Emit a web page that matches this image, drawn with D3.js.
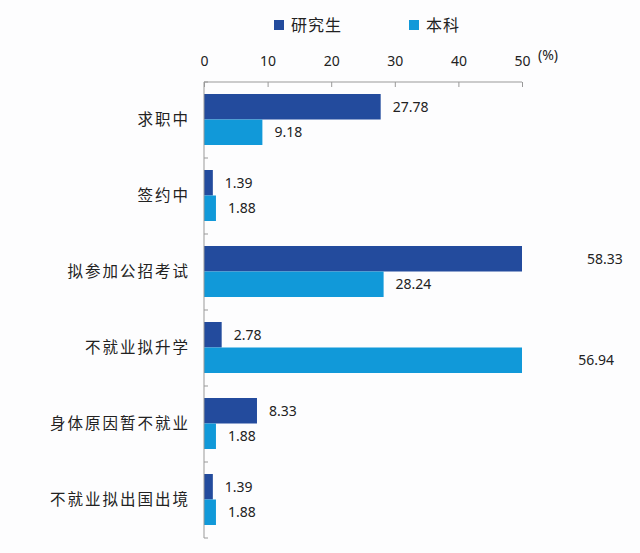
<!DOCTYPE html>
<html>
<head>
<meta charset="utf-8">
<script src="https://cdn.jsdelivr.net/npm/d3@7"></script>
<style>
body{margin:0;background:#fdfdfe;}
text{font-family:"Noto Sans","Noto Sans CJK SC",sans-serif;fill:#222;}
</style>
</head>
<body>
<div id="chart"></div>
<script>
var categories = ["求职中","签约中","拟参加公招考试","不就业拟升学","身体原因暂不就业","不就业拟出国出境"];
var seriesNames = ["研究生","本科"];
var graduate = [27.78, 1.39, 58.33, 2.78, 8.33, 1.39];
var undergrad = [9.18, 1.88, 28.24, 56.94, 1.88, 1.88];
var tickValues = [0,10,20,30,40,50];
var colors = ["#234b9d","#1199d9"];

var w = 640, h = 553;
var plotLeft = 204, plotRight = 522, plotTop = 82, plotBottom = 538;

var svg = d3.select("#chart").append("svg")
	.attr("width", w)
	.attr("height", h);

var x = d3.scaleLinear().domain([0,50]).range([plotLeft,plotRight]);
var y = d3.scaleBand().domain(categories).range([plotTop,plotBottom]);
var inner = d3.scaleBand().domain(seriesNames).range([12, y.bandwidth()-13]);

//bars, clipped at the end of the axis
var series = [graduate, undergrad];
series.forEach(function(vals, s){
	var g = svg.append("g");
	g.selectAll("rect").data(vals).enter().append("rect")
		.attr("x", x(0))
		.attr("y", function(d,i){ return y(categories[i]) + inner(seriesNames[s]); })
		.attr("width", function(d){ return x(Math.min(d,50)) - x(0); })
		.attr("height", inner.bandwidth())
		.style("fill", colors[s]);
	g.selectAll("text").data(vals).enter().append("text")
		.attr("x", function(d){ return x(d) + 12; })
		.attr("y", function(d,i){ return y(categories[i]) + inner(seriesNames[s]) + inner.bandwidth()/2; })
		.attr("dy", "0.35em")
		.style("font-size", "14px")
		.text(function(d){ return d.toFixed(2); });
});

//top axis
var xAxis = svg.append("g").attr("transform", "translate(0," + plotTop + ")")
	.call(d3.axisTop(x).tickValues(tickValues).tickSize(-5).tickPadding(16));
xAxis.select(".domain").attr("d", "M" + plotLeft + ",0H" + plotRight).attr("stroke", "#999");
xAxis.selectAll(".tick line").attr("stroke", "#999");
xAxis.selectAll(".tick text").style("font-size", "14px").style("fill", "#222").attr("font-family", null);

svg.append("text")
	.attr("x", x(50) + 16)
	.attr("y", 60)
	.style("font-size", "14px")
	.text("(%)");

//left axis
var yAxis = svg.append("g").attr("transform", "translate(" + plotLeft + ",0)");
yAxis.append("line").attr("x1",0).attr("x2",0).attr("y1",plotTop).attr("y2",plotBottom).attr("stroke","#999");
yAxis.selectAll("line.tk").data(categories.concat(["end"])).enter().append("line")
	.attr("class","tk")
	.attr("x1",0).attr("x2",4)
	.attr("y1", function(d){ return d=="end" ? plotBottom : y(d); })
	.attr("y2", function(d){ return d=="end" ? plotBottom : y(d); })
	.attr("stroke","#999");
yAxis.selectAll("text").data(categories).enter().append("text")
	.attr("x", -14)
	.attr("y", function(d){ return y(d) + y.bandwidth()/2; })
	.attr("dy", "0.35em")
	.attr("text-anchor", "end")
	.style("font-size", "15.5px")
	.style("letter-spacing", "2px")
	.text(function(d){ return d; });

//legend
var legendX = [274, 409];
seriesNames.forEach(function(name, i){
	svg.append("rect")
		.attr("x", legendX[i]).attr("y", 20)
		.attr("width", 10).attr("height", 10)
		.style("fill", colors[i]);
	svg.append("text")
		.attr("x", legendX[i] + 17).attr("y", 25)
		.attr("dy", "0.35em")
		.style("font-size", "16px")
		.style("letter-spacing", "1px")
		.text(name);
});
</script>
</body>
</html>
